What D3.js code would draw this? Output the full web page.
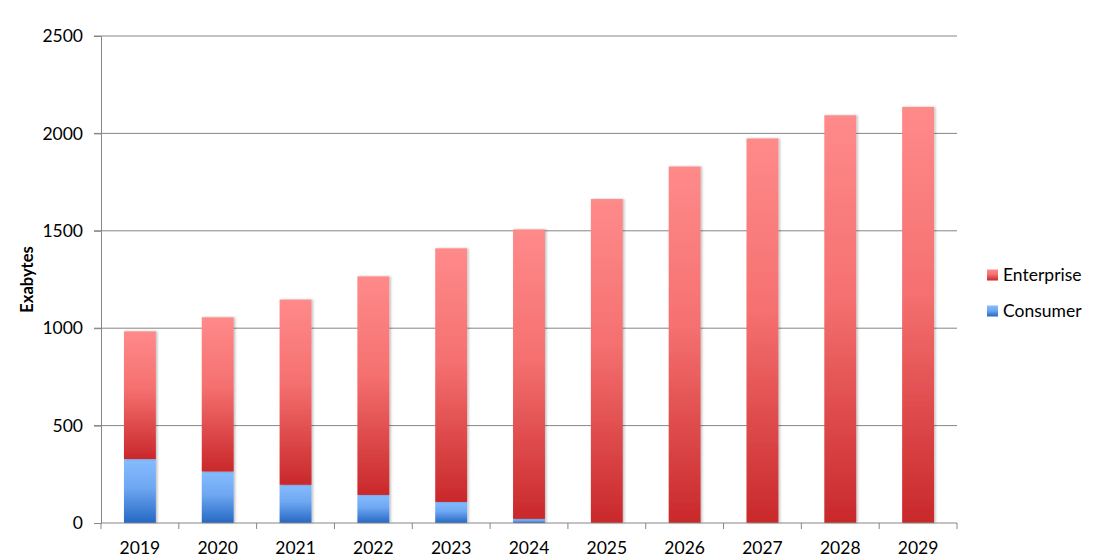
<!DOCTYPE html>
<html lang="en">
<head>
    <meta charset="UTF-8">
    <title>Exabytes by segment</title>
    <style>
        body { margin: 0; background: #fff; }
        text { font-family: Lato, "Open Sans", sans-serif; fill: #000; }
    </style>
    <script src="https://d3js.org/d3.v7.min.js"></script>
</head>
<body>
    <svg width="1100" height="560"></svg>
    <script>
        const years = ["2019", "2020", "2021", "2022", "2023", "2024", "2025", "2026", "2027", "2028", "2029"];
        const consumer = [328, 264, 196, 144, 108, 21, 0, 0, 0, 0, 0];
        const enterprise = [656, 792, 951, 1122, 1302, 1486, 1663, 1830, 1974, 2093, 2136];
        const yTicks = [0, 500, 1000, 1500, 2000, 2500];
        const seriesNames = ["Consumer", "Enterprise"];

        const svg = d3.select("svg");
        const plotL = 101, plotR = 957, plotT = 36, plotB = 523;

        const x = d3.scaleBand().domain(years).range([plotL, plotR]).paddingInner(0.59).paddingOuter(0.295);
        const y = d3.scaleLinear().domain([0, 2500]).range([plotB, plotT]);

        // gradients, light at top, dark at bottom of each segment
        const defs = svg.append("defs");
        const grads = {
            Enterprise: ["#ff8a8a", "#f57070", "#c9282a"],
            Consumer: ["#86bcff", "#6ea7f2", "#2568c4"]
        };
        Object.keys(grads).forEach(k => {
            const g = defs.append("linearGradient").attr("id", "g" + k)
                .attr("x1", 0).attr("y1", 0).attr("x2", 0).attr("y2", 1);
            g.append("stop").attr("offset", "0%").attr("stop-color", grads[k][0]);
            g.append("stop").attr("offset", "45%").attr("stop-color", grads[k][1]);
            g.append("stop").attr("offset", "100%").attr("stop-color", grads[k][2]);
        });
        const shadow = defs.append("filter").attr("id", "shadow")
            .attr("x", "-20%").attr("y", "-5%").attr("width", "140%").attr("height", "110%");
        shadow.append("feDropShadow").attr("dx", 1.5).attr("dy", 0).attr("stdDeviation", 1.2)
            .attr("flood-color", "#000").attr("flood-opacity", 0.25);

        // gridlines
        svg.append("g").selectAll("line").data(yTicks.slice(1)).enter().append("line")
            .attr("x1", plotL - 7).attr("x2", plotR)
            .attr("y1", d => y(d)).attr("y2", d => y(d))
            .attr("stroke", "#868686").attr("stroke-width", 1);

        // y axis
        const yAxis = svg.append("g").attr("transform", `translate(${plotL},0)`)
            .call(d3.axisLeft(y).tickValues(yTicks).tickFormat(d3.format("d")).tickSize(7).tickPadding(11));
        yAxis.select(".domain").attr("stroke", "#868686");
        yAxis.selectAll(".tick line").attr("stroke", "#868686");
        yAxis.selectAll("text").style("font-size", "17.5px").attr("fill", "#000");

        svg.append("text")
            .attr("transform", `translate(33,${(plotT + plotB) / 2}) rotate(-90)`)
            .attr("text-anchor", "middle")
            .style("font-size", "16.5px").style("font-weight", "bold")
            .text("Exabytes");

        // stacked bars
        const table = years.map((yr, i) => ({ year: yr, Consumer: consumer[i], Enterprise: enterprise[i] }));
        const stacked = d3.stack().keys(seriesNames)(table);

        svg.append("g").selectAll("g").data(stacked).enter().append("g")
            .attr("fill", d => `url(#g${d.key})`)
            .selectAll("rect").data(d => d.filter(s => s[1] > s[0])).enter().append("rect")
            .attr("x", d => x(d.data.year))
            .attr("width", x.bandwidth())
            .attr("y", d => y(d[1]))
            .attr("height", d => y(d[0]) - y(d[1]))
            .attr("filter", "url(#shadow)");

        // x axis with ticks between categories
        svg.append("line").attr("x1", plotL).attr("x2", plotR)
            .attr("y1", plotB).attr("y2", plotB).attr("stroke", "#868686");
        const edges = d3.range(years.length + 1).map(i => plotL + i * (plotR - plotL) / years.length);
        svg.append("g").selectAll("line").data(edges).enter().append("line")
            .attr("x1", d => d).attr("x2", d => d)
            .attr("y1", plotB).attr("y2", plotB + 6)
            .attr("stroke", "#868686");
        svg.append("g").selectAll("text").data(years).enter().append("text")
            .attr("x", d => x(d) + x.bandwidth() / 2)
            .attr("y", 554)
            .attr("text-anchor", "middle")
            .style("font-size", "17.5px")
            .text(d => d);

        // legend
        const legend = svg.append("g").selectAll("g").data(["Enterprise", "Consumer"]).enter().append("g")
            .attr("transform", (d, i) => `translate(987,${275 + i * 36})`);
        legend.append("rect").attr("x", 0).attr("y", -5.5).attr("width", 11).attr("height", 11)
            .attr("fill", d => `url(#g${d})`);
        legend.append("text").attr("x", 16).attr("y", 6)
            .style("font-size", "17.5px")
            .text(d => d);
    </script>
</body>
</html>
